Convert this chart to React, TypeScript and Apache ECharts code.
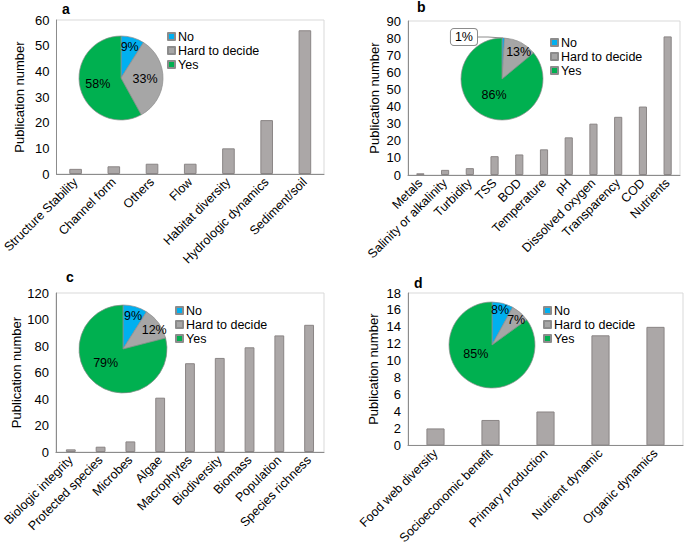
import React, { useEffect, useRef } from 'react';
import * as echarts from 'echarts';

const pieNames = ['No', 'Hard to decide', 'Yes'];
const pieColors = ['#00b0f0', '#a6a6a6', '#00b050'];

const catsA = ['Structure Stability', 'Channel form', 'Others', 'Flow', 'Habitat diversity', 'Hydrologic dynamics', 'Sediment/soil'];
const valsA = [2, 3, 4, 4, 10, 21, 56];
const pieA = [9, 33, 58];

const catsB = ['Metals', 'Salinity or alkalinity', 'Turbidity', 'TSS', 'BOD', 'Temperature', 'pH', 'Dissolved oxygen', 'Transparency', 'COD', 'Nutrients'];
const valsB = [1, 3, 4, 11, 12, 15, 22, 30, 34, 40, 81];
const pieB = [1, 13, 86];

const catsC = ['Biologic integrity', 'Protected species', 'Microbes', 'Algae', 'Macrophytes', 'Biodiversity', 'Biomass', 'Population', 'Species richness'];
const valsC = [2, 4, 8, 41, 67, 71, 79, 88, 96];
const pieC = [9, 12, 79];

const catsD = ['Food web diversity', 'Socioeconomic benefit', 'Primary production', 'Nutrient dynamic', 'Organic dynamics'];
const valsD = [2, 3, 4, 13, 14];
const pieD = [8, 7, 85];

const yMax = [60, 90, 120, 18];
const yStep = [10, 10, 20, 2];
const letters = ['a', 'b', 'c', 'd'];

const FONT = 'Arial, Liberation Sans, sans-serif';

const panels = [
  { cats: catsA, vals: valsA, pie: pieA, grid: { left: 51, top: 20, width: 273, height: 154 }, nameGap: 30, center: [121, 78], r: 42, legend: [167, 30], letter: [62, 2],
    offs: [[2, -8], [0, 0], [0, 0]] },
  { cats: catsB, vals: valsB, pie: pieB, grid: { left: 408, top: 21, width: 272, height: 154 }, nameGap: 27, center: [502, 79], r: 41, legend: [550, 36], letter: [417, 0],
    offs: [null, [6, -6], [2, -5]] },
  { cats: catsC, vals: valsC, pie: pieC, grid: { left: 51, top: 293, width: 273, height: 159 }, nameGap: 32, center: [123, 349], r: 44, legend: [175, 304], letter: [66, 270],
    offs: [[3, -9], [11, -4], [-2, -6]] },
  { cats: catsD, vals: valsD, pie: pieD, grid: { left: 408, top: 293, width: 275, height: 155 }, nameGap: 28, center: [492, 345], r: 43, legend: [543, 304], letter: [414, 276],
    offs: [[2, -11], [8, -7], [-5, -13]] },
];

function buildOption() {
  const grid: any[] = [];
  const xAxis: any[] = [];
  const yAxis: any[] = [];
  const series: any[] = [];
  const legend: any[] = [];
  const graphic: any[] = [];
  panels.forEach((p, i) => {
    grid.push({ ...p.grid, show: true, borderColor: '#d9d9d9', borderWidth: 1, containLabel: false });
    xAxis.push({
      type: 'category', gridIndex: i, data: p.cats,
      axisTick: { show: false },
      axisLine: { lineStyle: { color: '#8c8c8c', width: 1 } },
      axisLabel: { rotate: 45, interval: 0, fontSize: 12.5, color: '#000', fontFamily: FONT, margin: 6 },
    });
    yAxis.push({
      type: 'value', gridIndex: i, min: 0, max: yMax[i], interval: yStep[i],
      name: 'Publication number', nameLocation: 'middle', nameGap: p.nameGap,
      nameTextStyle: { fontSize: 13, color: '#000', fontFamily: FONT },
      axisLine: { show: true, lineStyle: { color: '#8c8c8c', width: 1 } },
      axisTick: { show: false },
      splitLine: { show: false },
      axisLabel: { fontSize: 13, color: '#000', fontFamily: FONT, margin: 7 },
    });
    series.push({
      type: 'bar', xAxisIndex: i, yAxisIndex: i, data: p.vals, barWidth: '33%',
      itemStyle: { color: '#aba7a7', borderColor: '#8a8585', borderWidth: 1 },
    });
    const offs = p.offs;
    series.push({
      type: 'pie', center: p.center, radius: p.r, startAngle: 90, clockwise: true,
      z: 5,
      itemStyle: { borderColor: '#8c8c8c', borderWidth: 0.7 },
      label: { show: true, position: 'inside', color: '#000', fontSize: 12.5, fontFamily: FONT, formatter: (q: any) => q.value + '%' },
      labelLine: { show: false },
      data: p.pie.map((v, k) => {
        const d: any = { name: pieNames[k], value: v, itemStyle: { color: pieColors[k] } };
        if (i === 1 && k === 0) {
          d.label = {
            position: 'outside', backgroundColor: '#fff', borderColor: '#8c8c8c', borderWidth: 1, borderRadius: 3,
            padding: [2, 4, 1, 4],
          };
          d.labelLine = { show: true, length: 6, length2: 10, lineStyle: { color: '#8c8c8c', width: 1 } };
        }
        return d;
      }),
      labelLayout: (params: any) => {
        if (i === 1 && params.dataIndex === 0) {
          return { x: 477, y: 37, align: 'right', verticalAlign: 'middle' };
        }
        const o = offs[params.dataIndex];
        return o ? { dx: o[0], dy: o[1] } : {};
      },
    });
    legend.push({
      data: pieNames, orient: 'vertical', left: p.legend[0], top: p.legend[1], padding: 0,
      icon: 'rect', itemWidth: 7, itemHeight: 7, itemGap: 1,
      textStyle: { fontSize: 12.5, color: '#000', fontFamily: FONT, padding: [0, 0, 0, -2] },
    });
    graphic.push({
      type: 'text', left: p.letter[0], top: p.letter[1],
      style: { text: letters[i], fontSize: 14, fontWeight: 'bold', fill: '#000', fontFamily: FONT },
    });
  });
  return { animation: false, backgroundColor: '#fff', grid, xAxis, yAxis, series, legend, graphic };
}

export default function App() {
  const ref = useRef<HTMLDivElement>(null);
  useEffect(() => {
    if (!ref.current) return;
    const chart = echarts.init(ref.current, null, { renderer: 'svg' });
    chart.setOption(buildOption() as any);
    return () => chart.dispose();
  }, []);
  return <div ref={ref} style={{ position: 'fixed', left: 0, top: 0, width: 685, height: 547, background: '#fff' }} />;
}
